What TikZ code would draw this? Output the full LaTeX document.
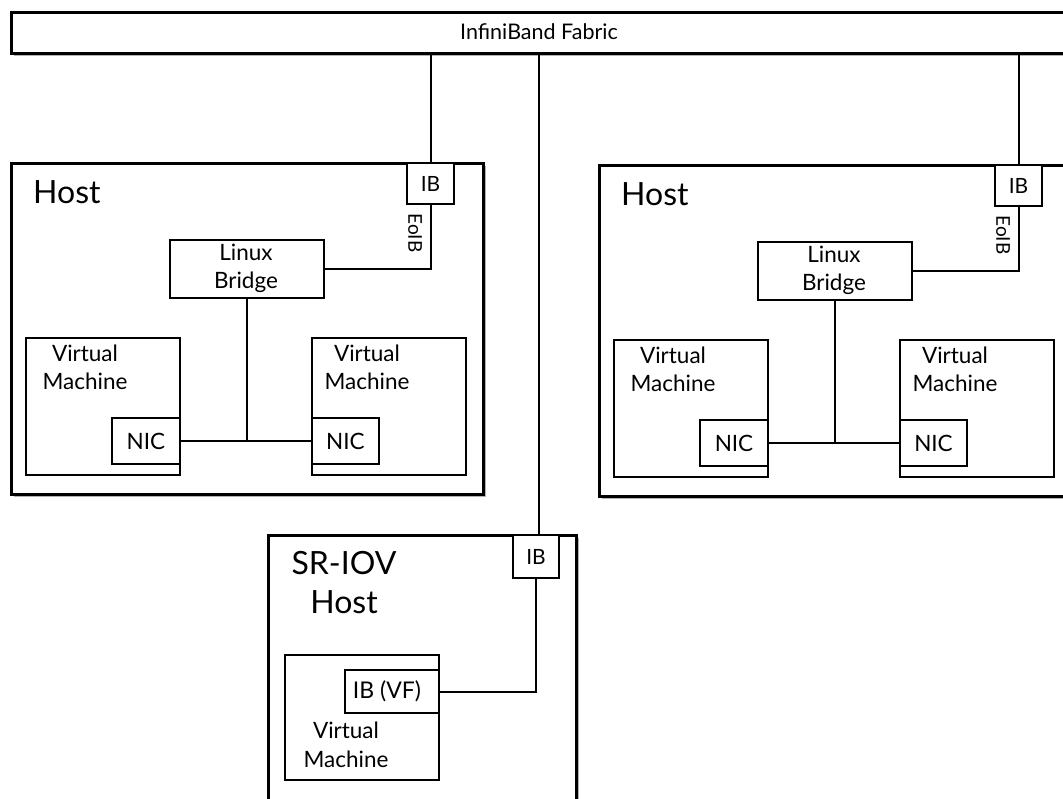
\documentclass[tikz,border=0pt]{standalone}
\usepackage{fontspec}
\setmainfont{Lato}
\usetikzlibrary{shadows}
\begin{document}
\begin{tikzpicture}[x=1pt,y=-1pt,
  box/.style={draw, line width=2pt, fill=white, inner sep=0pt, anchor=north west},
  outer/.style={box, line width=2.6pt, drop shadow={shadow xshift=3pt, shadow yshift=-3pt, opacity=0.3, fill=black}},
  wire/.style={line width=2pt},
  big/.style={font=\fontsize{32}{39}\selectfont, inner sep=0pt},
  mid/.style={font=\fontsize{22.5}{28}\selectfont, inner sep=0pt},
  sml/.style={font=\fontsize{21}{24}\selectfont, inner sep=0pt},
  tiny/.style={font=\fontsize{19}{22}\selectfont, inner sep=0pt}]
\useasboundingbox (0,0) rectangle (1063,798);
\clip (0,0) rectangle (1063,798);

% Fabric
\node[outer, minimum width=1080pt, minimum height=41pt] (fab) at (10,11) {};
\node[font=\fontsize{21.5}{24}\selectfont, inner sep=0pt] (fabtxt) at (539,32) {InfiniBand Fabric};

% Hosts
\foreach \n/\dx/\dy in {L/0/0, R/588/2}{
\begin{scope}[shift={(\dx,\dy)}]
  \node[outer, minimum width=472pt, minimum height=331pt] (host\n) at (10,162) {};
  \node[big, anchor=base west] (hostlbl\n) at (33,203) {Host};
  \node[box, minimum width=47pt, minimum height=41pt] (ib\n) at (406,162) {};
  \node[sml] (ibtxt\n) at (ib\n.center) {IB};
  \node[box, minimum width=154pt, minimum height=58pt] (br\n) at (169,239) {};
  \node[mid, anchor=base] (brA\n) at (246,260) {Linux};
  \node[mid, anchor=base] (brB\n) at (246,288) {Bridge};
  \node[box, minimum width=154pt, minimum height=137pt] (vma\n) at (25,337) {};
  \node[mid, anchor=base] (vmaA\n) at (85,361) {Virtual};
  \node[mid, anchor=base] (vmaB\n) at (85,389) {Machine};
  \node[box, minimum width=68pt, minimum height=46pt] (nica\n) at (111,417) {};
  \node[mid] (nicatxt\n) at (nica\n.center) {NIC};
  \node[box, minimum width=154pt, minimum height=137pt] (vmb\n) at (311,337) {};
  \node[mid, anchor=base] (vmbA\n) at (367,361) {Virtual};
  \node[mid, anchor=base] (vmbB\n) at (367,389) {Machine};
  \node[box, minimum width=67pt, minimum height=46pt] (nicb\n) at (311,417) {};
  \node[mid] (nicbtxt\n) at (nicb\n.center) {NIC};
  \coordinate (eo\n) at (ib\n.south |- br\n.east);
  \coordinate (jn\n) at (br\n.south |- nica\n.east);
  \draw[wire] (ib\n.north) -- (ib\n.north |- fab.south);
  \draw[wire] (ib\n.south) -- (eo\n) -- (br\n.east);
  \draw[wire] (br\n.south) -- (jn\n);
  \draw[wire] (nica\n.east) -- (nicb\n.west);
  \node[tiny, rotate=-90] (eoib\n) at (415,233) {EoIB};
\end{scope}
}

% SR-IOV host
\node[outer, minimum width=308pt, minimum height=300pt] (sr) at (267,534) {};
\node[big, anchor=base] (srA) at (344,574) {SR-IOV};
\node[big, anchor=base] (srB) at (344,613) {Host};
\node[box, minimum width=46pt, minimum height=43pt] (ibs) at (512,534) {};
\node[sml] (ibstxt) at (ibs.center) {IB};
\node[box, minimum width=154pt, minimum height=125pt] (vms) at (284,654) {};
\node[box, minimum width=94pt, minimum height=43pt] (vf) at (344,669) {};
\node[font=\fontsize{23}{26}\selectfont, inner sep=0pt] (vftxt) at ([xshift=-5pt]vf.center) {IB (VF)};
\node[mid, anchor=base] (vmsA) at (346,738) {Virtual};
\node[mid, anchor=base] (vmsB) at (346,767) {Machine};
\coordinate (srk) at (ibs.south |- vf.east);
\draw[wire] ([xshift=3pt]ibs.north) -- ([xshift=3pt]ibs.north |- fab.south);
\draw[wire] (ibs.south) -- (srk) -- (vf.east);
\end{tikzpicture}
\end{document}
